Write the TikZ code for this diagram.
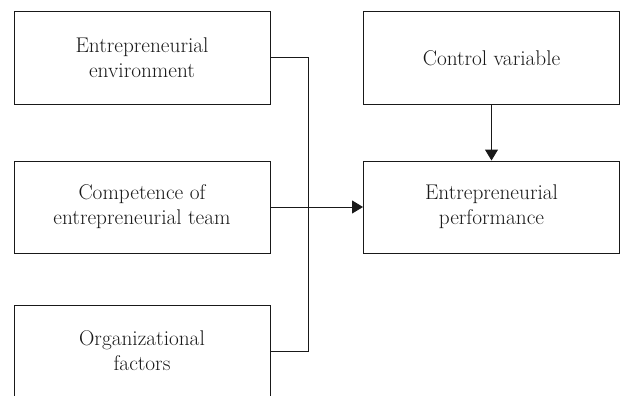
\documentclass[tikz,border=0pt]{standalone}
\usetikzlibrary{arrows.meta}
\begin{document}
\begin{tikzpicture}[x=1pt, y=-1pt,
    box/.style={draw=black!90, line width=1pt, minimum width=256pt, minimum height=92pt,
      inner sep=0pt, align=center, font=\fontsize{21.3}{25}\selectfont, text=black!90},
    link/.style={draw=black!90, line width=1pt},
    arr/.style={link, -{Triangle[length=11pt, width=13pt]}}]
      \useasboundingbox (0,0) rectangle (621,396);
      \clip (0,0) rectangle (621,396);
      \node[box] (env) at (142,58) {Entrepreneurial\\environment};
      \node[box] (comp) at (142,207) {Competence of\\entrepreneurial team};
      \node[box] (org) at (142,351) {Organizational\\factors};
      \node[box] (ctrl) at (491.5,58) {Control variable};
      \node[box] (perf) at (491.5,207) {Entrepreneurial\\performance};
      \coordinate (bus) at (308,207);
      \draw[link] (env.east) -| (bus);
      \draw[link] (org.east) -| (bus);
      \draw[arr] (comp.east) -- (perf.west);
      \draw[arr] (ctrl) -- (perf);
    \end{tikzpicture}
\end{document}
